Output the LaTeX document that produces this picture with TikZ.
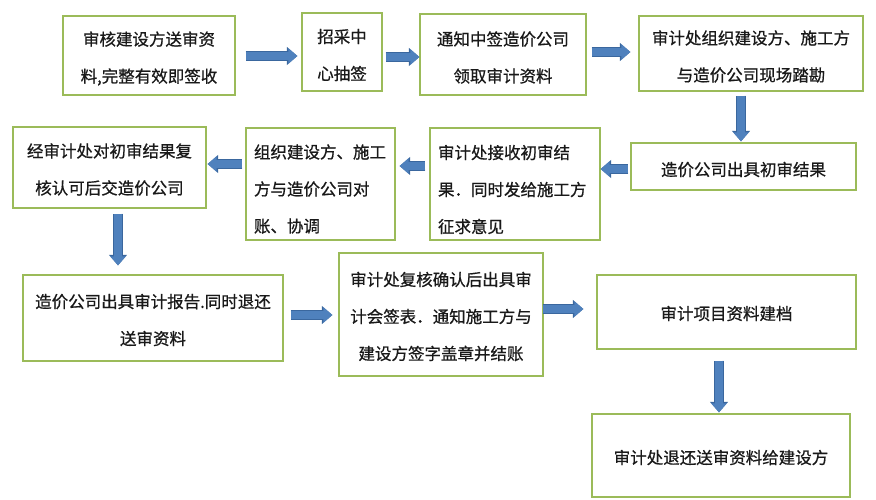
\documentclass[tikz,border=0pt]{standalone}
\usepackage{fontspec}
\newfontfamily\cjk[FakeBold=0.8]{Noto Sans CJK SC}
\usetikzlibrary{arrows.meta,calc}
\definecolor{boxgreen}{HTML}{9BBB59}
\definecolor{arrowfill}{HTML}{4F81BD}
\definecolor{arrowedge}{HTML}{3A679E}
\newcommand\mydn[1]{\rule{0pt}{#1}}
\begin{document}
\begin{tikzpicture}[x=1pt,y=-1pt,
  box/.style={draw=boxgreen, line width=1.3pt, fill=white, inner xsep=8pt, inner ysep=0pt,
    align=center, font=\cjk\fontsize{16.5}{37}\selectfont, text=black!90},
  lbox/.style={box, align=left},
  barrow/.style={draw=arrowfill, line width=7.5pt, -{Triangle[length=9pt,width=15pt]},
    preaction={draw=arrowedge, line width=9.2pt, -{Triangle[length=10.5pt,width=17.5pt]}}}
]
\useasboundingbox (0,0) rectangle (876,500);
% row 1
\node[box, minimum width=172pt, minimum height=79pt, text width=156pt] (b1) at (149,55.5)
  {\mydn{20pt}审核建设方送审资\\料,完整有效即签收};
\node[box, minimum width=80pt, minimum height=78pt, text width=64pt] (b2) at (342,52)
  {\mydn{20pt}招采中\\心抽签};
\node[box, minimum width=166pt, minimum height=81pt, text width=150pt] (b3) at (503,54.5)
  {\mydn{20pt}通知中签造价公司\\领取审计资料};
\node[box, minimum width=224pt, minimum height=75pt, text width=208pt] (b4) at (751,53.5)
  {\mydn{20pt}审计处组织建设方、施工方\\与造价公司现场踏勘};
% row 2
\node[box, minimum width=225pt, minimum height=47pt, text width=209pt] (b5) at (743.5,166.5)
  {\mydn{20pt}造价公司出具初审结果};
\node[lbox, minimum width=170pt, minimum height=112pt, text width=154pt] (b6) at (515,184)
  {\mydn{25pt}审计处接收初审结\\果．同时发给施工方\\征求意见};
\node[lbox, minimum width=149pt, minimum height=112pt, text width=133pt] (b7) at (320.5,184)
  {\mydn{24pt}组织建设方、施工\\方与造价公司对\\账、协调};
\node[box, minimum width=193pt, minimum height=81pt, text width=177pt] (b8) at (109.5,167.5)
  {\mydn{18pt}经审计处对初审结果复\\核认可后交造价公司};
% row 3
\node[box, minimum width=260pt, minimum height=86pt, text width=244pt] (b9) at (153,318)
  {\mydn{18pt}造价公司出具审计报告.同时退还\\送审资料};
\node[box, minimum width=204pt, minimum height=123pt, text width=188pt] (b10) at (441,314.5)
  {\mydn{18pt}审计处复核确认后出具审\\计会签表．通知施工方与\\建设方签字盖章并结账};
\node[box, minimum width=259pt, minimum height=74pt, text width=243pt] (b11) at (726.5,312)
  {\mydn{17pt}审计项目资料建档};
\node[box, minimum width=258pt, minimum height=83pt, text width=242pt] (b12) at (721,455.5)
  {\mydn{18pt}审计处退还送审资料给建设方};
% arrows
\draw[barrow] ($(b1.east)+(10,0.5)$) -- ($(b2.west|-b1.east)+(-4,0.5)$);
\draw[barrow] ($(b2.east)+(3,5)$) -- ($(b3.west|-b2.east)+(0,5)$);
\draw[barrow] ($(b3.east)+(5,-2.5)$) -- ($(b4.west|-b3.east)+(-8,-2.5)$);
\draw[barrow] ($(b4.south)+(-10,4)$) -- ($(b5.north-|b4.south)+(-10,-1)$);
\draw[barrow] ($(b5.west)+(-2,2.5)$) -- ($(b6.east|-b5.west)+(0,2.5)$);
\draw[barrow] ($(b6.west)+(-4,-18)$) -- ($(b7.east|-b6.west)+(4,-18)$);
\draw[barrow] ($(b7.west)+(-3,-20)$) -- ($(b8.east|-b7.west)+(1,-20)$);
\draw[barrow] ($(b8.south)+(8.5,5)$) -- ($(b9.north-|b8.south)+(8.5,-9)$);
\draw[barrow] ($(b9.east)+(7,-3)$) -- ($(b10.west|-b9.east)+(-6,-3)$);
\draw[barrow] ($(b10.east)+(-1,-5.5)$) -- ($(b11.west|-b10.east)+(-13,-5.5)$);
\draw[barrow] ($(b11.south)+(-7.5,11)$) -- ($(b12.north-|b11.south)+(-7.5,-1)$);
\end{tikzpicture}
\end{document}
